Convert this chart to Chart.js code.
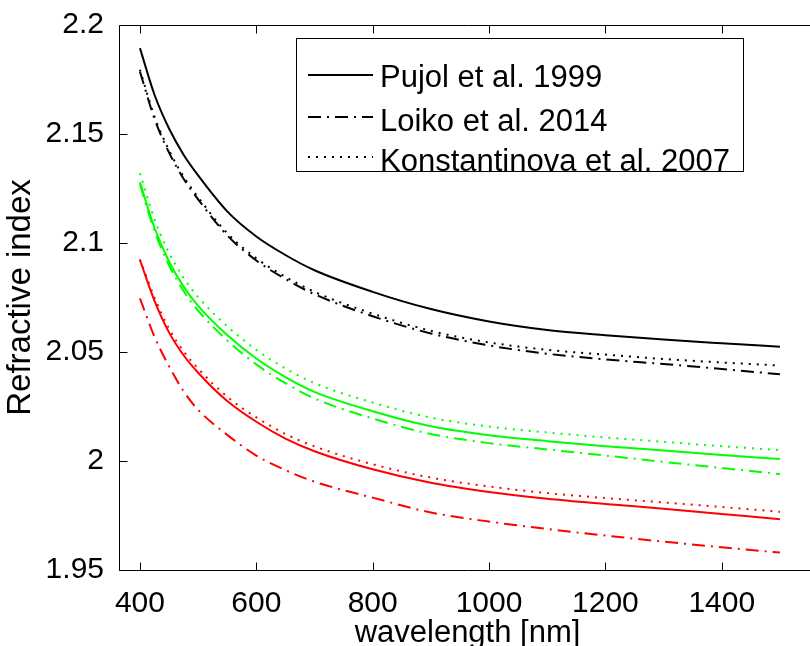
<!DOCTYPE html>
<html>
<head>
<meta charset="utf-8">
<script src="https://cdn.jsdelivr.net/npm/chart.js@4.4.0/dist/chart.umd.min.js"></script>
<style>
  html, body { margin: 0; padding: 0; background: #fff; overflow: hidden; }
</style>
</head>
<body>
<canvas id="chart" width="818" height="646"></canvas>
<script>
// wavelength [nm] and refractive index
const wavelength = [400, 425, 450, 475, 500, 550, 600, 650, 700, 800, 900, 1000, 1100, 1200, 1300, 1400, 1500];

const pujolBlack = [2.1894, 2.168, 2.1525, 2.1405, 2.131, 2.1145, 2.103, 2.0945, 2.0875, 2.0776, 2.0697, 2.064, 2.0601, 2.0577, 2.0557, 2.054, 2.0524];
const loikoBlack = [2.1786, 2.157, 2.1415, 2.1295, 2.120, 2.1035, 2.092, 2.0835, 2.0765, 2.0664, 2.0585, 2.053, 2.0492, 2.0466, 2.0445, 2.0422, 2.0398];
const konstBlack = [2.1795, 2.158, 2.1425, 2.1305, 2.121, 2.1045, 2.093, 2.0845, 2.0776, 2.0676, 2.0597, 2.0544, 2.051, 2.0488, 2.0468, 2.0452, 2.0438];

const pujolGreen = [2.1278, 2.107, 2.0915, 2.080, 2.0712, 2.0578, 2.047, 2.0385, 2.0317, 2.0228, 2.0159, 2.0118, 2.0091, 2.0068, 2.0048, 2.0028, 2.0009];
const loikoGreen = [2.1268, 2.1055, 2.0898, 2.078, 2.069, 2.0553, 2.0443, 2.0357, 2.0287, 2.0195, 2.0124, 2.0082, 2.0053, 2.0025, 1.9996, 1.9968, 1.994];
const konstGreen = [2.132, 2.111, 2.0955, 2.084, 2.0752, 2.0618, 2.051, 2.0425, 2.0357, 2.0268, 2.0199, 2.0158, 2.0131, 2.0108, 2.0088, 2.0068, 2.005];

const pujolRed = [2.0922, 2.0735, 2.059, 2.0485, 2.0405, 2.0275, 2.018, 2.0103, 2.0045, 1.9962, 1.990, 1.9858, 1.9827, 1.9803, 1.9781, 1.9757, 1.9733];
const loikoRed = [2.0746, 2.057, 2.0435, 2.032, 2.0235, 2.012, 2.0025, 1.9958, 1.9905, 1.9832, 1.9764, 1.9722, 1.9688, 1.9658, 1.963, 1.9604, 1.958];
const konstRed = [2.0925, 2.075, 2.0607, 2.0503, 2.0424, 2.0295, 2.020, 2.0124, 2.0067, 1.9985, 1.9924, 1.9883, 1.9853, 1.983, 1.981, 1.9789, 1.9767];

const xTicks = [400, 600, 800, 1000, 1200, 1400];
const yTicks = [1.95, 2, 2.05, 2.1, 2.15, 2.2];

const legendNames = ['Pujol et al. 1999', 'Loiko et al. 2014', 'Konstantinova et al. 2007'];
const dashStyles = [[], [13, 6, 2, 6], [2, 6]];

const FONT = "'Liberation Sans', Arial, sans-serif";

function pts(ys) {
  return wavelength.map((x, i) => ({ x: x, y: ys[i] }));
}

function makeSet(ys, color, style) {
  return {
    data: pts(ys),
    borderColor: color,
    borderWidth: 2,
    borderDash: dashStyles[style],
    pointRadius: 0,
    fill: false,
    cubicInterpolationMode: 'monotone'
  };
}

const datasets = [
  makeSet(pujolBlack, '#000000', 0),
  makeSet(loikoBlack, '#000000', 1),
  makeSet(konstBlack, '#000000', 2),
  makeSet(pujolGreen, '#00ff00', 0),
  makeSet(loikoGreen, '#00ff00', 1),
  makeSet(konstGreen, '#00ff00', 2),
  makeSet(pujolRed, '#ff0000', 0),
  makeSet(loikoRed, '#ff0000', 1),
  makeSet(konstRed, '#ff0000', 2)
];

// matlab style box (right side is cropped off in the figure), inward ticks and legend
const boxPlugin = {
  id: 'boxPlugin',
  afterDraw(chart) {
    const ctx = chart.ctx;
    const a = chart.chartArea;
    const xs = chart.scales.x, ys = chart.scales.y;
    const L = Math.round(a.left) + 0.5, T = Math.round(a.top) + 0.5, B = Math.round(a.bottom) + 0.5;
    ctx.save();
    ctx.strokeStyle = '#000';
    ctx.lineWidth = 1;
    ctx.setLineDash([]);
    ctx.beginPath();
    ctx.moveTo(chart.width, T); ctx.lineTo(L, T); ctx.lineTo(L, B); ctx.lineTo(chart.width, B);
    xTicks.forEach(v => {
      const px = Math.round(xs.getPixelForValue(v)) + 0.5;
      ctx.moveTo(px, B); ctx.lineTo(px, B - 8);
      ctx.moveTo(px, T); ctx.lineTo(px, T + 8);
    });
    yTicks.forEach(v => {
      const py = Math.round(ys.getPixelForValue(v)) + 0.5;
      ctx.moveTo(L, py); ctx.lineTo(L + 8, py);
    });
    ctx.stroke();

    // legend
    const lx = a.left + 177, ly = a.top + 13;
    ctx.fillStyle = '#fff';
    ctx.fillRect(lx, ly, 447, 133);
    ctx.strokeRect(lx + 0.5, ly + 0.5, 447, 133);
    const lineY = [37, 79, 119];
    const textY = [49, 93, 133];
    ctx.fillStyle = '#000';
    ctx.font = '31px ' + FONT;
    ctx.textBaseline = 'alphabetic';
    legendNames.forEach((name, i) => {
      ctx.lineWidth = 2;
      ctx.setLineDash(dashStyles[i]);
      ctx.beginPath();
      ctx.moveTo(lx + 12, ly + lineY[i]);
      ctx.lineTo(lx + 77, ly + lineY[i]);
      ctx.stroke();
      ctx.setLineDash([]);
      ctx.fillText(name, lx + 84, ly + textY[i]);
    });
    ctx.restore();
  }
};

new Chart(document.getElementById('chart'), {
  type: 'line',
  data: { datasets: datasets },
  plugins: [boxPlugin],
  options: {
    responsive: false,
    animation: false,
    devicePixelRatio: 1,
    layout: { padding: { top: 25, right: 2, left: 0, bottom: 0 } },
    plugins: { legend: { display: false }, tooltip: { enabled: false } },
    scales: {
      x: {
        type: 'linear',
        min: 364,
        max: 1562,
        grid: { display: false },
        border: { display: false },
        afterBuildTicks: s => { s.ticks = xTicks.map(v => ({ value: v })); },
        afterFit: s => { s.height = 76; },
        ticks: {
          color: '#000',
          font: { family: FONT, size: 30 },
          padding: 8,
          maxRotation: 0,
          autoSkip: false,
          callback: v => String(v)
        },
        title: {
          display: true,
          text: 'wavelength [nm]',
          color: '#000',
          font: { family: FONT, size: 31 },
          padding: { top: 0, bottom: -6 }
        }
      },
      y: {
        min: 1.95,
        max: 2.2,
        grid: { display: false },
        border: { display: false },
        afterBuildTicks: s => { s.ticks = yTicks.map(v => ({ value: v })); },
        afterFit: s => { s.width = 119; },
        ticks: {
          color: '#000',
          font: { family: FONT, size: 30 },
          padding: 7,
          callback: v => String(Number(v.toFixed(2)))
        },
        title: {
          display: true,
          text: 'Refractive index',
          color: '#000',
          font: { family: FONT, size: 33 },
          padding: { top: 1, bottom: 0 }
        }
      }
    }
  }
});
</script>
</body>
</html>
